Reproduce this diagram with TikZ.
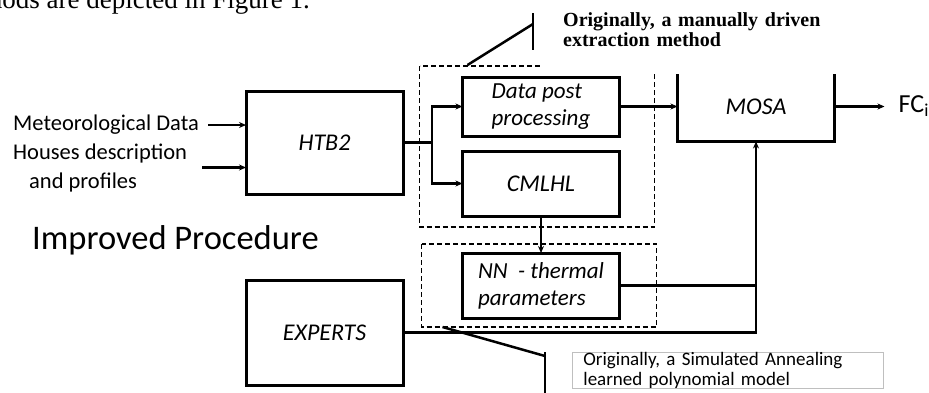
\documentclass[tikz,border=0pt]{standalone}
\usepackage{fontspec}
\setmainfont{Liberation Serif}
\setsansfont{Carlito}
\usepackage{tikz}
\usetikzlibrary{arrows.meta}
\usetikzlibrary{positioning}
\usetikzlibrary{calc}
\tikzstyle{block} = [draw, rectangle, line width = 3pt, outer sep = 0pt, minimum width = 157pt, font = \sffamily\itshape\fontsize{24}{27}\selectfont]
\tikzstyle{twoline} = [align = left, font = \sffamily\itshape\fontsize{23}{27}\selectfont]
\tikzstyle{arrow} = [line width = 2.5pt, -{Stealth[length = 7pt, width = 6pt]}]
\tikzstyle{wire} = [line width = 2.5pt]
\tikzstyle{group} = [draw, line width = 1.8pt, dash pattern = on 5pt off 3pt]
\tikzstyle{pointer} = [line width = 2.5pt]
\tikzstyle{intext} = [inner sep = 0pt, align = left, font = \sffamily\fontsize{22.5}{29}\selectfont]

\begin{document}
\begin{tikzpicture}[x = 1pt, y = -1pt]
	\useasboundingbox (0, 0) rectangle (929, 392);
	\clip (0, 0) rectangle (929, 392);
	
	% Page text above the figure
	\node[anchor = base east, inner sep = 0pt, font = \fontsize{27}{30}\selectfont] (pagetext) at (310, 8) {thods are depicted in Figure 1.};
	
	% Simulation and inputs
	\node[block, minimum height = 103pt] (htb2) at (324.5, 142.5) {HTB2};
	\node[intext, anchor = west] (met) at (13, 125) {Meteorological Data};
	\node[intext, anchor = west] (houses) at (13, 167.5) {Houses description\\\hspace*{16pt}and profiles};
	\node[inner sep = 0pt, anchor = west, font = \sffamily\fontsize{34.5}{40}\selectfont] (improved) at (32, 240) {Improved Procedure};
	\node[block, minimum height = 105pt, below = 86pt of htb2] (experts) {EXPERTS};
	\coordinate[right = 29pt of htb2.east] (split);
	
	% Extraction layer
	\node[block, twoline, minimum height = 59pt] (post) at (541, 106.5) {Data post\\processing};
	\node[block, minimum height = 65pt, below = 15pt of post] (cmlhl) {CMLHL};
	\node[block, twoline, minimum height = 65pt, below = 37pt of cmlhl] (nn) {NN\ \ - thermal\\parameters};
	% Dashed groups
	\draw[group] ($(post.north west) + (-43, -11)$) rectangle ($(cmlhl.south east) + (35, 11)$);
	\draw[group] ($(nn.north west) + (-41, -9)$) rectangle ($(nn.south east) + (37, 9)$);
	
	% MOSA and output
	\node[block, minimum height = 70pt, right = 58pt of post] (mosa) {MOSA};
	\node[inner sep = 0pt, right = 64pt of mosa, font = \sffamily\fontsize{26}{30}\selectfont] (fc) {FC\textsubscript{i}};
	
	% Connect all nodes defined above
	\draw[arrow] ([xshift = 9pt]met.east) -- (met.east -| htb2.west);
	\draw[arrow] ([xshift = 15pt]houses.east) -- (houses.east -| htb2.west);
	\draw[wire] (htb2.east) -- (split);
	\draw[arrow] (split) |- (post.west);
	\draw[arrow] (split) |- (cmlhl.west);
	\draw[arrow] (post.east) -- (post.east -| mosa.west);
	\draw[arrow] (mosa.east) -- ([xshift = -14pt]fc.west);
	\draw[arrow] (cmlhl.south) -- (nn.north);
	\draw[wire] (nn.east) -- (nn.east -| mosa.south);
	\draw[arrow] (experts.east) -| (mosa.south);
	
	% Notes
	\coordinate (c1from) at ($(post.north west) + (5, -12)$);
	\coordinate (c1to) at (533, 24);
	\coordinate (c1top) at (533, 13);
	\coordinate (c1bot) at (533, 50);
	\draw[pointer] (c1from) -- (c1to);
	\draw[pointer] (c1top) -- (c1bot);
	\node[fill = white, anchor = north west, minimum height = 89pt, inner xsep = 23pt, text width = 354pt, align = left, font = \bfseries\fontsize{20}{19.5}\selectfont] (note1) at (540, -15) {Originally, a manually driven\\extraction method};
	
	\coordinate (c2from) at ($(nn.south west) + (-20, 9)$);
	\coordinate (c2to) at (545, 356);
	\coordinate (c2top) at (545, 352);
	\coordinate (c2bot) at (545, 400);
	\draw[pointer] (c2from) -- (c2to);
	\draw[pointer] (c2top) -- (c2bot);
	\node[draw = black!25, line width = 0.8pt, fill = white, anchor = north west, inner ysep = 0pt, inner xsep = 11pt, text width = 289pt, align = left, font = \sffamily\fontsize{19}{20}\selectfont] (note2) at (572, 352) {Originally, a Simulated Annealing\\learned polynomial model};
	
\end{tikzpicture}
\end{document}
